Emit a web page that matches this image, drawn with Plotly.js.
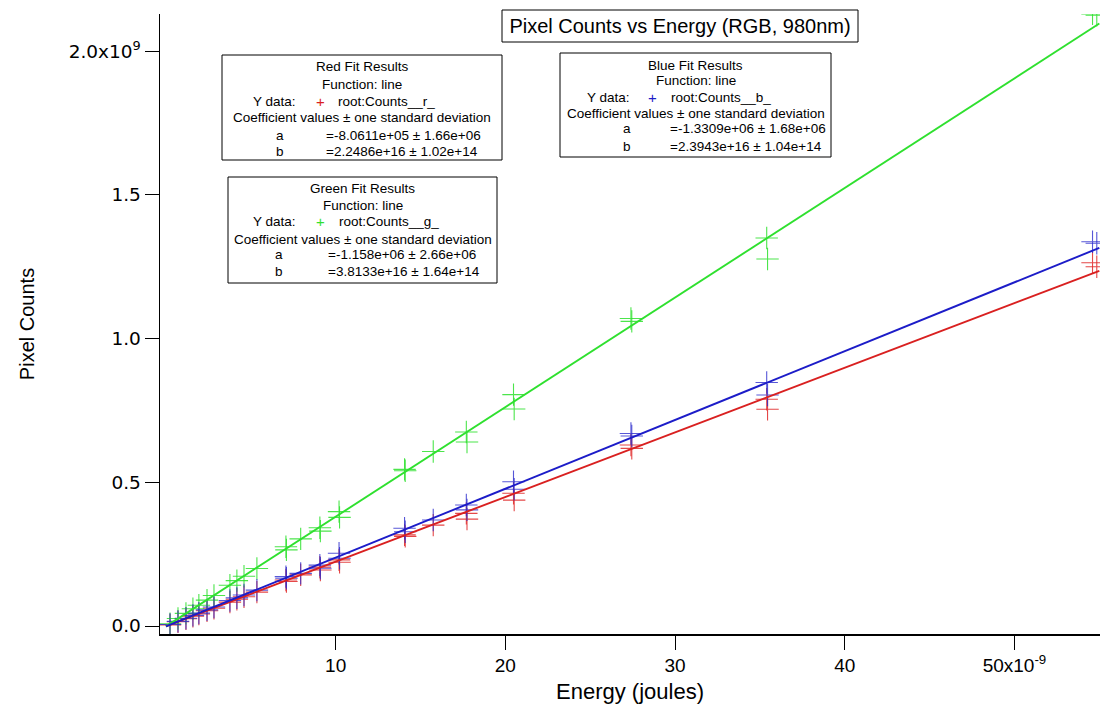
<!DOCTYPE html>
<html>
<head>
<meta charset="utf-8">
<script src="https://cdn.plot.ly/plotly-3.0.1.min.js"></script>
<style>html,body{margin:0;padding:0;background:#fff;}#chart{width:1101px;height:708px;}</style>
</head>
<body>
<div id="chart"></div>
<script>
// Energy in nanojoules (x10^-9 J)
const energy = [0.24, 0.71, 1.18, 1.59, 1.94, 2.42, 2.83, 3.77, 4.18, 4.60, 5.36, 7.07, 7.10, 7.94, 9.07, 9.10, 10.20, 10.23, 14.06, 14.10, 15.75, 17.70, 17.74, 20.48, 20.52, 27.40, 27.45, 35.40, 35.45, 54.60, 54.85];
// Pixel counts in units of 10^9
const countsR = [0.004, 0.015, 0.025, 0.034, 0.042, 0.053, 0.062, 0.083, 0.093, 0.102, 0.118, 0.160, 0.155, 0.178, 0.205, 0.195, 0.230, 0.222, 0.317, 0.312, 0.351, 0.392, 0.372, 0.462, 0.438, 0.630, 0.618, 0.789, 0.754, 1.264, 1.250];
const countsG = [0.008, 0.026, 0.044, 0.060, 0.072, 0.090, 0.106, 0.142, 0.158, 0.173, 0.200, 0.276, 0.265, 0.303, 0.342, 0.330, 0.398, 0.378, 0.545, 0.540, 0.607, 0.675, 0.640, 0.805, 0.755, 1.070, 1.060, 1.350, 1.277, 2.130, 2.125];
const countsB = [0.005, 0.016, 0.027, 0.037, 0.045, 0.056, 0.066, 0.089, 0.098, 0.108, 0.125, 0.172, 0.166, 0.183, 0.212, 0.201, 0.253, 0.236, 0.340, 0.328, 0.369, 0.421, 0.404, 0.502, 0.476, 0.670, 0.661, 0.847, 0.804, 1.337, 1.332];

// Fit coefficients (line: y = a + b*x, x in joules, y in counts)
const fitA = {r: -8.0611e5, g: -1.158e6, b: -1.3309e6};
const fitB = {r: 2.2486e16, g: 3.8133e16, b: 2.3943e16};
const fitRange = [0.0, 55.0]; // nJ

const xTickVals = [10, 20, 30, 40, 50];
const xTickText = ['10', '20', '30', '40', '50x10<sup>-9</sup>'];
const yTickVals = [0, 0.5, 1.0, 1.5, 2.0];
const yTickText = ['0.0', '0.5', '1.0', '1.5', '2.0x10<sup>9</sup>'];

const fitText = {
  r: {title: 'Red Fit Results', name: 'root:Counts__r_', a: '=-8.0611e+05 ± 1.66e+06', b: '=2.2486e+16 ± 1.02e+14'},
  g: {title: 'Green Fit Results', name: 'root:Counts__g_', a: '=-1.158e+06 ± 2.66e+06', b: '=3.8133e+16 ± 1.64e+14'},
  b: {title: 'Blue Fit Results', name: 'root:Counts__b_', a: '=-1.3309e+06 ± 1.68e+06', b: '=2.3943e+16 ± 1.04e+14'}
};

const colors = {r: '#d92020', g: '#2fe02f', b: '#1c1cc8'};
const markColors = {r: 'rgba(225,40,40,0.85)', g: 'rgba(45,225,45,0.85)', b: 'rgba(45,45,205,0.8)'};

function fitLine(k) {
  const xs = fitRange.slice();
  const ys = xs.map(x => (fitA[k] + fitB[k] * x * 1e-9) / 1e9);
  return {x: xs, y: ys, mode: 'lines', type: 'scatter', line: {color: colors[k], width: 1.9}, showlegend: false, hoverinfo: 'skip'};
}
function pts(k, ys) {
  return {x: energy, y: ys, mode: 'markers', type: 'scatter', showlegend: false,
    marker: {symbol: 'cross-thin-open', size: 16, color: markColors[k], line: {color: markColors[k], width: 1.1}}};
}

const traces = [pts('r', countsR), pts('g', countsG), pts('b', countsB), fitLine('r'), fitLine('g'), fitLine('b')];

// layout geometry helpers (pixel -> paper)
const L = 160, R = 1100, T = 14, B = 634;
const px = p => (p - L) / (R - L);
const py = p => (B - p) / (B - T);

const boxFont = {family: 'Liberation Sans, Arial, sans-serif', size: 13.5, color: '#000'};
const annotations = [];
const shapes = [];
function ann(text, x, y, xanchor, extra) {
  annotations.push(Object.assign({text: text, x: px(x), y: py(y), xref: 'paper', yref: 'paper', xanchor: xanchor, yanchor: 'middle', showarrow: false, font: boxFont}, extra || {}));
}
function box(k, left, right, top, bottom, rows, yd, aX, vX) {
  shapes.push({type: 'rect', xref: 'paper', yref: 'paper', x0: px(left), x1: px(right), y0: py(bottom), y1: py(top), line: {color: '#000', width: 1}, fillcolor: 'rgba(255,255,255,1)', layer: 'above'});
  const c = (left + right) / 2;
  const t = fitText[k];
  ann(t.title, c, rows[0], 'center');
  ann('Function: line', c, rows[1], 'center');
  ann('Y data:', yd[0], rows[2], 'right');
  ann('+', yd[1], rows[2], 'center', {font: Object.assign({}, boxFont, {color: colors[k], size: 15})});
  ann(t.name, yd[2], rows[2], 'left');
  ann('Coefficient values ± one standard deviation', c, rows[3], 'center');
  ann('a', aX, rows[4], 'center');
  ann(t.a, vX, rows[4], 'left');
  ann('b', aX, rows[5], 'center');
  ann(t.b, vX, rows[5], 'left');
}
box('r', 222, 502, 55, 160, [67, 84, 101, 118, 135, 152], [298, 320, 336], 280, 324);
box('g', 228, 497, 177, 283, [189, 205, 222, 239, 255, 271], [298, 320, 337], 279, 326);
box('b', 560, 831, 53, 157, [65, 81, 97, 113, 129, 146], [632, 652, 669], 627, 668);

// title box
shapes.push({type: 'rect', xref: 'paper', yref: 'paper', x0: px(502), x1: px(858), y0: py(42), y1: py(10), line: {color: '#000', width: 1}, fillcolor: '#fff', layer: 'above'});

const layout = {
  width: 1101, height: 708,
  margin: {l: L, r: 1101 - R, t: T, b: 708 - B, pad: 0},
  paper_bgcolor: '#fff', plot_bgcolor: '#fff',
  showlegend: false,
  title: {text: 'Pixel Counts vs Energy (RGB, 980nm)', x: 680 / 1101, xref: 'container', xanchor: 'center', y: 1 - 26 / 708, yref: 'container', yanchor: 'middle',
    font: {family: 'Liberation Sans, Arial, sans-serif', size: 20, color: '#000'}},
  xaxis: {
    range: [-0.35, 55.04], showgrid: false, zeroline: false, showline: true, linecolor: '#000', linewidth: 1.5, mirror: false,
    ticks: 'outside', ticklen: 14, tickwidth: 1, tickcolor: '#000',
    tickmode: 'array', tickvals: xTickVals, ticktext: xTickText,
    tickfont: {family: 'Liberation Sans, sans-serif', size: 19, color: '#000'},
    title: {text: 'Energy (joules)', standoff: 8, font: {family: 'Liberation Sans, sans-serif', size: 22, color: '#000'}}
  },
  yaxis: {
    range: [-0.0278, 2.1294], showgrid: false, zeroline: false, showline: true, linecolor: '#000', linewidth: 1.5, mirror: false,
    ticks: 'outside', ticklen: 14, tickwidth: 1, tickcolor: '#000',
    tickmode: 'array', tickvals: yTickVals, ticktext: yTickText,
    tickfont: {family: 'DejaVu Sans, sans-serif', size: 18.5, color: '#000'},
    title: {text: 'Pixel Counts', standoff: 28, font: {family: 'Liberation Sans, sans-serif', size: 20, color: '#000'}}
  },
  shapes: shapes,
  annotations: annotations
};

Plotly.newPlot('chart', traces, layout, {displayModeBar: false, staticPlot: true});
</script>
</body>
</html>
